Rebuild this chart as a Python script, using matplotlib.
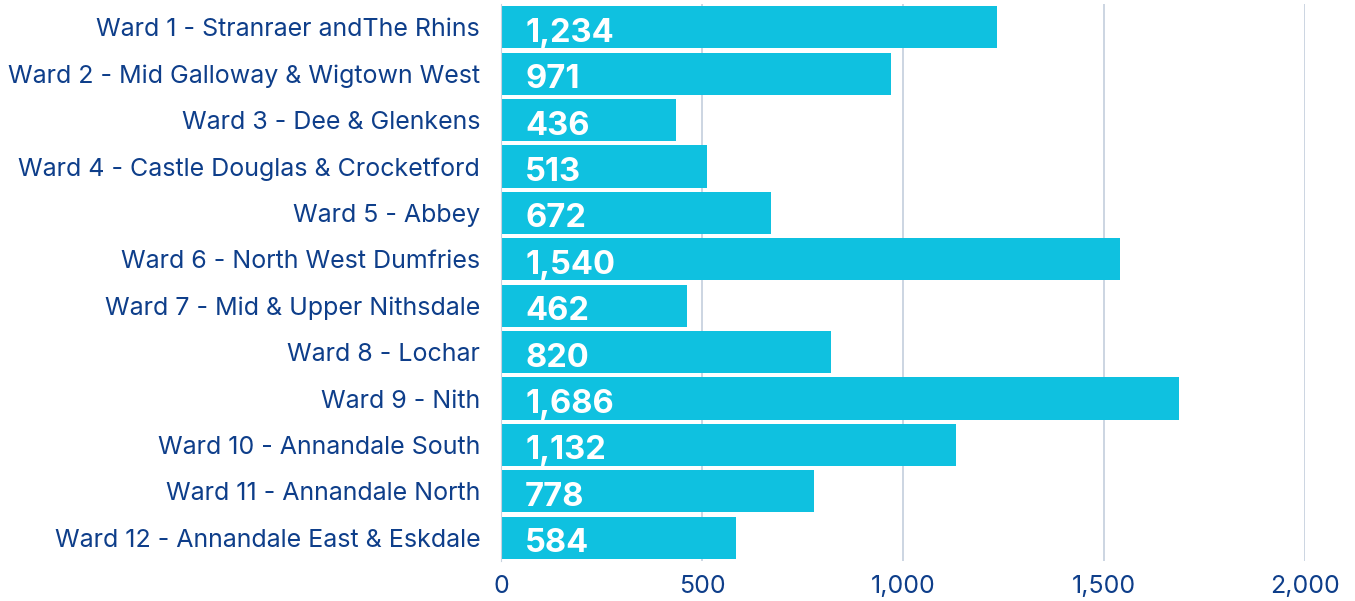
import matplotlib.pyplot as plt
from matplotlib.ticker import FuncFormatter

# data
wards = [
    "Ward 1 - Stranraer andThe Rhins",
    "Ward 2 - Mid Galloway & Wigtown West",
    "Ward 3 - Dee & Glenkens",
    "Ward 4 - Castle Douglas & Crocketford",
    "Ward 5 - Abbey",
    "Ward 6 - North West Dumfries",
    "Ward 7 - Mid & Upper Nithsdale",
    "Ward 8 - Lochar",
    "Ward 9 - Nith",
    "Ward 10 - Annandale South",
    "Ward 11 - Annandale North",
    "Ward 12 - Annandale East & Eskdale",
]
values = [1234, 971, 436, 513, 672, 1540, 462, 820, 1686, 1132, 778, 584]
xticks = [0, 500, 1000, 1500, 2000]

bar_color = "#0fc1e0"
text_color = "#0e3e8a"
grid_color = "#c8d2df"

plt.rcParams["font.family"] = ["Inter", "DejaVu Sans"]

fig = plt.figure(figsize=(13.55, 6.01), dpi=100)
ax = fig.add_axes([501 / 1355, 1 - 561 / 601, (1305 - 501) / 1355, 557 / 601])

pos = list(range(len(wards)))
ax.barh(pos, values, height=0.91, color=bar_color, zorder=3)

for p, v in zip(pos, values):
    ax.text(60, p + 0.13, f"{v:,}", color="white", fontsize=23.5, fontweight="bold",
            va="center", ha="left", zorder=4)

ax.set_ylim(len(wards) - 0.5, -0.5)
ax.set_xlim(0, 2000)
ax.set_yticks(pos)
ax.set_yticklabels(wards)
ax.set_xticks(xticks)
ax.xaxis.set_major_formatter(FuncFormatter(lambda x, _: f"{int(x):,}"))

ax.tick_params(axis="both", length=0, labelsize=18, labelcolor=text_color)
ax.tick_params(axis="y", pad=15)
ax.tick_params(axis="x", pad=10)

ax.grid(axis="x", color=grid_color, linewidth=1.3, zorder=0)
for s in ["top", "right", "bottom"]:
    ax.spines[s].set_visible(False)
ax.spines["left"].set_color(grid_color)
ax.spines["left"].set_zorder(5)

fig.savefig("out.png", dpi=100)
